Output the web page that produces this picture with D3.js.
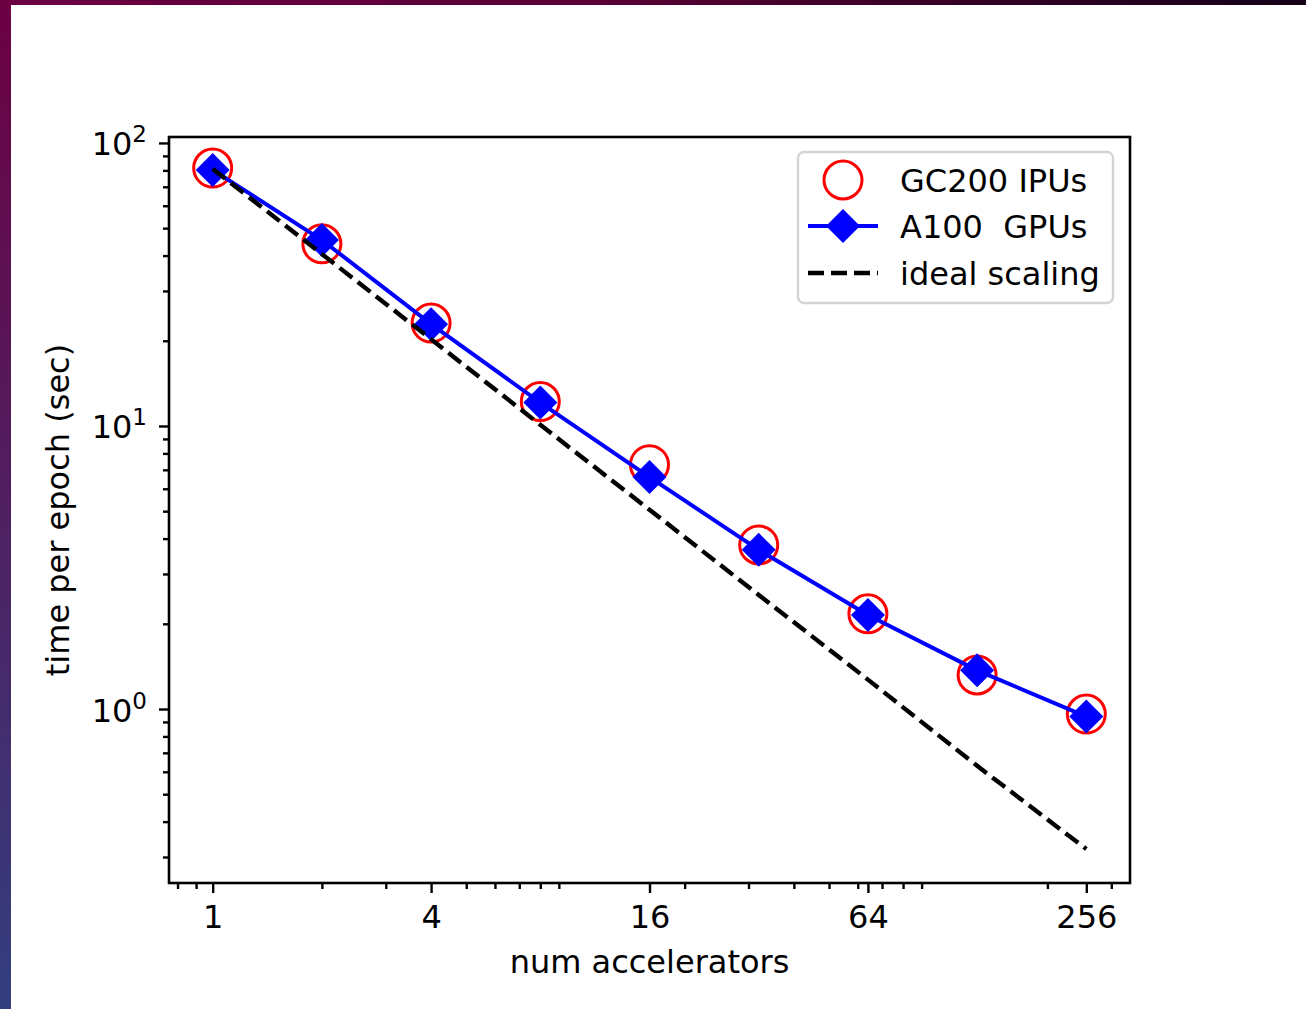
<!DOCTYPE html>
<html>
<head>
<meta charset="utf-8">
<script src="https://cdn.jsdelivr.net/npm/d3@7"></script>
<style>
  body { margin: 0; background: #fff; }
  text { font-family: "DejaVu Sans", sans-serif; fill: #000; }
</style>
</head>
<body>
<script>
// values
var accelerators = [1, 2, 4, 8, 16, 32, 64, 128, 256]
var ipuTime = [81.5, 44, 23.1, 12.2, 7.3, 3.8, 2.17, 1.32, 0.96]
var gpuTime = [80.3, 45.4, 22.9, 12.1, 6.6, 3.65, 2.15, 1.37, 0.94]
var idealTime = [81, 40.5, 20.25, 10.1, 5.06, 2.53, 1.27, 0.63, 0.32]

var xTicks = [1, 4, 16, 64, 256]
var xMinorTicks = [0.8, 0.9, 2, 3, 5, 6, 7, 8, 9, 20, 30, 40, 50, 60, 70, 80, 90, 200, 300]
var yTicks = [1, 10, 100]
var yTickExps = ["0", "1", "2"]
var yMinorTicks = [0.3, 0.4, 0.5, 0.6, 0.7, 0.8, 0.9, 2, 3, 4, 5, 6, 7, 8, 9, 20, 30, 40, 50, 60, 70, 80, 90]

var legendLabels = ["GC200 IPUs", "A100  GPUs", "ideal scaling"]

var w = 1306
var h = 1009
var pLeft = 169, pRight = 1130, pTop = 137, pBottom = 883

var svg = d3.select("body")
  .append("svg")
  .attr("width", w)
  .attr("height", h)

// slide border
var defs = svg.append("defs")
var gv = defs.append("linearGradient").attr("id", "gv")
  .attr("x1", 0).attr("y1", 0).attr("x2", 0).attr("y2", 1)
gv.append("stop").attr("offset", "0%").attr("stop-color", "#6c0042")
gv.append("stop").attr("offset", "100%").attr("stop-color", "#333f7f")
var gh = defs.append("linearGradient").attr("id", "gh")
  .attr("x1", 0).attr("y1", 0).attr("x2", 1).attr("y2", 0)
gh.append("stop").attr("offset", "0%").attr("stop-color", "#6c0042")
gh.append("stop").attr("offset", "45%").attr("stop-color", "#5a0036")
gh.append("stop").attr("offset", "100%").attr("stop-color", "#140016")

svg.append("rect").attr("width", w).attr("height", h).attr("fill", "#fff")
svg.append("rect").attr("x", 0).attr("y", 0).attr("width", 11).attr("height", h).attr("fill", "url(#gv)")
svg.append("rect").attr("x", 0).attr("y", 0).attr("width", w).attr("height", 5).attr("fill", "url(#gh)")

var x = d3.scaleLog().base(2)
  .domain([Math.pow(2, -0.4), Math.pow(2, 8.4)])
  .range([pLeft, pRight])

var y = d3.scaleLog()
  .domain([0.2428, 104.96])
  .range([pBottom, pTop])

// axes
var xMinor = svg.append("g")
  .attr("transform", "translate(0," + pBottom + ")")
  .call(d3.axisBottom(x).tickValues(xMinorTicks).tickSize(6).tickFormat(""))
var xMajor = svg.append("g")
  .attr("transform", "translate(0," + pBottom + ")")
  .call(d3.axisBottom(x).tickValues(xTicks).tickSize(10).tickPadding(12).tickFormat(d3.format("d")))
var yMinor = svg.append("g")
  .attr("transform", "translate(" + pLeft + ",0)")
  .call(d3.axisLeft(y).tickValues(yMinorTicks).tickSize(6).tickFormat(""))
var yMajor = svg.append("g")
  .attr("transform", "translate(" + pLeft + ",0)")
  .call(d3.axisLeft(y).tickValues(yTicks).tickSize(10).tickFormat(""))

svg.selectAll(".domain").remove()
svg.selectAll(".tick line").attr("stroke", "#000").attr("stroke-width", 2.4)

xMajor.selectAll(".tick text")
  .attr("font-size", 32)
  .attr("dy", null)
  .attr("y", 45)

yMajor.selectAll(".tick").each(function(d, i) {
  var t = d3.select(this).append("text")
    .attr("x", -22)
    .attr("y", 12)
    .attr("text-anchor", "end")
    .attr("font-size", 32)
  t.append("tspan").text("10")
  t.append("tspan").attr("font-size", 23).attr("dy", -13).text(yTickExps[i])
})

// lines and markers
var line = function(vals) {
  return d3.line()
    .x(function(d, i) { return x(accelerators[i]) })
    .y(function(d) { return y(d) })(vals)
}

var plot = svg.append("g")

plot.selectAll(".ipu")
  .data(ipuTime)
  .enter().append("circle")
  .attr("class", "ipu")
  .attr("cx", function(d, i) { return x(accelerators[i]) })
  .attr("cy", function(d) { return y(d) })
  .attr("r", 19)
  .attr("fill", "none")
  .attr("stroke", "#ff0000")
  .attr("stroke-width", 3)

plot.append("path")
  .attr("d", line(gpuTime))
  .attr("fill", "none")
  .attr("stroke", "#0000ff")
  .attr("stroke-width", 4)

var diamond = "M0,-17L17,0L0,17L-17,0Z"
plot.selectAll(".gpu")
  .data(gpuTime)
  .enter().append("path")
  .attr("class", "gpu")
  .attr("d", diamond)
  .attr("transform", function(d, i) { return "translate(" + x(accelerators[i]) + "," + y(d) + ")" })
  .attr("fill", "#0000ff")

plot.append("path")
  .attr("d", line(idealTime))
  .attr("fill", "none")
  .attr("stroke", "#000")
  .attr("stroke-width", 4.4)
  .attr("stroke-dasharray", "16,7")

// frame
svg.append("rect")
  .attr("x", pLeft).attr("y", pTop)
  .attr("width", pRight - pLeft).attr("height", pBottom - pTop)
  .attr("fill", "none")
  .attr("stroke", "#000")
  .attr("stroke-width", 2.6)

// axis labels
svg.append("text")
  .attr("x", (pLeft + pRight) / 2)
  .attr("y", 973)
  .attr("text-anchor", "middle")
  .attr("font-size", 32)
  .text("num accelerators")

svg.append("text")
  .attr("transform", "translate(69," + (pTop + pBottom) / 2 + ") rotate(-90)")
  .attr("text-anchor", "middle")
  .attr("font-size", 32)
  .text("time per epoch (sec)")

// legend
var lg = svg.append("g")
lg.append("rect")
  .attr("x", 798).attr("y", 152)
  .attr("width", 315).attr("height", 151)
  .attr("rx", 6)
  .attr("fill", "#fff").attr("fill-opacity", 0.8)
  .attr("stroke", "#d3d3d3").attr("stroke-width", 2.4)

var rowY = [180, 226, 273]
lg.append("circle")
  .attr("cx", 843).attr("cy", rowY[0]).attr("r", 19)
  .attr("fill", "none").attr("stroke", "#ff0000").attr("stroke-width", 3)
lg.append("line")
  .attr("x1", 808).attr("x2", 878).attr("y1", rowY[1]).attr("y2", rowY[1])
  .attr("stroke", "#0000ff").attr("stroke-width", 4)
lg.append("path")
  .attr("d", diamond)
  .attr("transform", "translate(843," + rowY[1] + ")")
  .attr("fill", "#0000ff")
lg.append("line")
  .attr("x1", 808).attr("x2", 878).attr("y1", rowY[2]).attr("y2", rowY[2])
  .attr("stroke", "#000").attr("stroke-width", 4.4)
  .attr("stroke-dasharray", "16,7")

lg.selectAll(".lbl")
  .data(legendLabels)
  .enter().append("text")
  .attr("class", "lbl")
  .attr("x", 900)
  .attr("y", function(d, i) { return rowY[i] + 12 })
  .attr("font-size", 32)
  .style("white-space", "pre")
  .attr("xml:space", "preserve")
  .text(function(d) { return d })
</script>
</body>
</html>
